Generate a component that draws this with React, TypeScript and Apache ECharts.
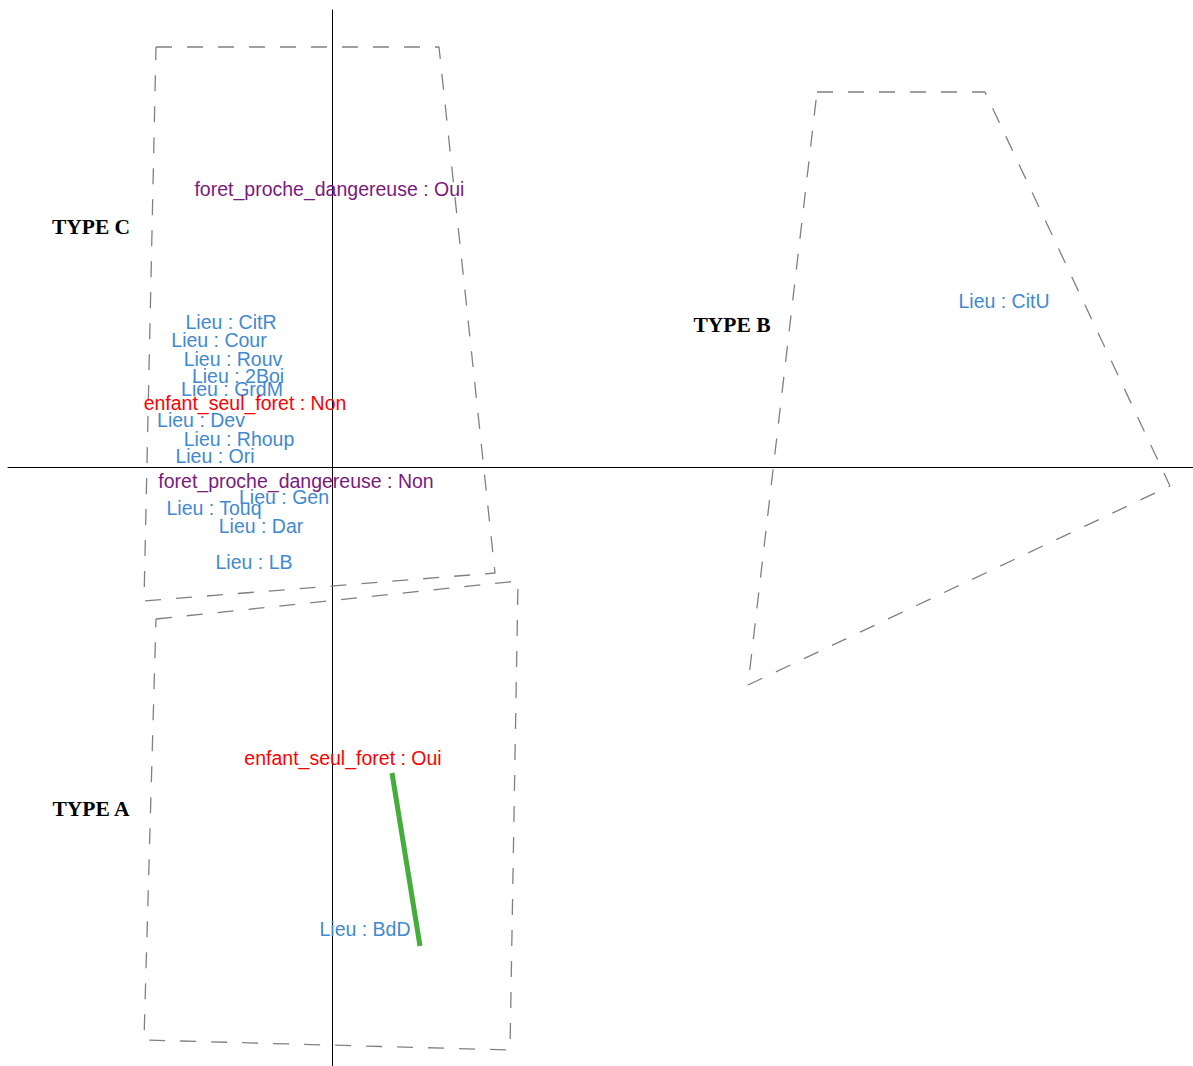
import React, { useEffect, useRef } from "react";
import * as echarts from "echarts";

// Category labels with their positions on the factor map (dim1, dim2)
const lieuLabels: [number, number, string][] = [
  [-0.505, 0.725, "Lieu : CitR"],
  [-0.565, 0.635, "Lieu : Cour"],
  [-0.495, 0.54, "Lieu : Rouv"],
  [-0.47, 0.455, "Lieu : 2Boi"],
  [-0.5, 0.39, "Lieu : GrdM"],
  [-0.655, 0.235, "Lieu : Dev"],
  [-0.465, 0.14, "Lieu : Rhoup"],
  [-0.585, 0.055, "Lieu : Ori"],
  [-0.24, -0.15, "Lieu : Gen"],
  [-0.59, -0.205, "Lieu : Touq"],
  [-0.355, -0.295, "Lieu : Dar"],
  [-0.39, -0.475, "Lieu : LB"],
  [0.165, -2.31, "Lieu : BdD"],
  [3.36, 0.83, "Lieu : CitU"],
];
const enfantLabels: [number, number, string][] = [
  [-0.435, 0.32, "enfant_seul_foret : Non"],
  [0.055, -1.455, "enfant_seul_foret : Oui"],
];
const foretLabels: [number, number, string][] = [
  [-0.013, 1.39, "foret_proche_dangereuse : Oui"],
  [-0.18, -0.07, "foret_proche_dangereuse : Non"],
];
const typeLabels: [number, number, string][] = [
  [-1.205, 1.2, "TYPE C"],
  [2.0, 0.71, "TYPE B"],
  [-1.205, -1.71, "TYPE A"],
];
// Cluster hulls
const hullC: [number, number][] = [[-0.88, 2.1], [0.535, 2.1], [0.815, -0.53], [-0.94, -0.67], [-0.88, 2.1]];
const hullA: [number, number][] = [[-0.88, -0.76], [0.93, -0.57], [0.89, -2.915], [-0.94, -2.865], [-0.88, -0.76]];
const hullB: [number, number][] = [[2.425, 1.875], [3.265, 1.875], [4.19, -0.095], [2.08, -1.09], [2.425, 1.875]];
const greenSegment: [number, number][] = [[0.3, -1.53], [0.44, -2.395]];

const X_MIN = -1.62;
const X_MAX = 4.305;
const Y_MIN = -2.995;
const Y_MAX = 2.285;

const BLUE = "#3f8ad0";
const RED = "#ff0000";
const PURPLE = "#7a1a7e";

function labelSeries(data: [number, number, string][], color: string, font: any) {
  return {
    type: "scatter",
    data: data.map((d) => ({ value: [d[0], d[1]], name: d[2] })),
    symbolSize: 1,
    itemStyle: { color: "rgba(0,0,0,0)", opacity: 1 },
    silent: true,
    z: 10,
    label: {
      show: true,
      position: "inside",
      formatter: (p: any) => p.name,
      color,
      opacity: 1,
      ...font,
    },
  };
}

function hull(data: [number, number][]) {
  return {
    type: "line",
    data,
    symbol: "none",
    silent: true,
    z: 3,
    lineStyle: { color: "#808080", width: 1.3, type: [16, 15] },
  };
}

export default function App() {
  const ref = useRef<HTMLDivElement>(null);
  useEffect(() => {
    document.body.style.margin = "0";
    const chart = echarts.init(ref.current!, null, { renderer: "svg" });
    const sans = { fontFamily: "Liberation Sans, Arial, sans-serif", fontSize: 19.5 };
    chart.setOption({
      animation: false,
      backgroundColor: "#ffffff",
      grid: { left: 8, right: 0, top: 10, bottom: 0 },
      xAxis: {
        type: "value",
        min: X_MIN,
        max: X_MAX,
        axisLine: { show: true, onZero: true, lineStyle: { color: "#000", width: 1 } },
        axisTick: { show: false },
        axisLabel: { show: false },
        splitLine: { show: false },
      },
      yAxis: {
        type: "value",
        min: Y_MIN,
        max: Y_MAX,
        axisLine: { show: true, onZero: true, lineStyle: { color: "#000", width: 1 } },
        axisTick: { show: false },
        axisLabel: { show: false },
        splitLine: { show: false },
      },
      series: [
        hull(hullC),
        hull(hullA),
        hull(hullB),
        {
          type: "line",
          data: greenSegment,
          symbol: "none",
          silent: true,
          z: 4,
          lineStyle: { color: "#45ad3c", width: 5 },
        },
        labelSeries(lieuLabels, BLUE, sans),
        labelSeries(enfantLabels, RED, sans),
        labelSeries(foretLabels, PURPLE, sans),
        labelSeries(typeLabels, "#000", {
          fontFamily: "Liberation Serif, Times New Roman, serif",
          fontWeight: "bold",
          fontSize: 21.5,
        }),
      ],
    });
    return () => chart.dispose();
  }, []);
  return <div ref={ref} style={{ width: 1193, height: 1066 }} />;
}
